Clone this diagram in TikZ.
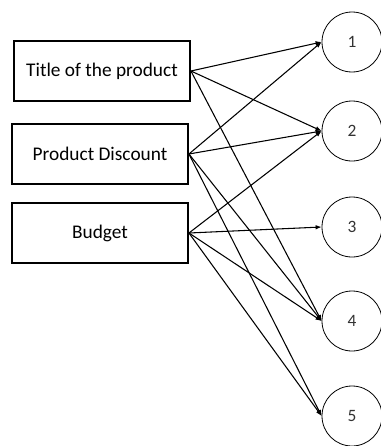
\documentclass[tikz,border=0pt]{standalone}
\usepackage{fontspec}
\setmainfont{Carlito}
\usetikzlibrary{arrows.meta}
\tikzstyle{pixelGrid} = [x = .75pt, y = -.75pt]
\tikzstyle{featureBox} = [draw, line width=1.4pt, minimum width=132pt, minimum height=45pt, inner sep=0pt, font=\fontsize{14.5}{16}\selectfont]
\tikzstyle{classCircle} = [draw, circle, line width=.6pt, minimum size=45pt, inner sep=0pt, font=\fontsize{13}{15}\selectfont, text=black!80]
\tikzstyle{linkArrow} = [line width=.8pt, -{Latex[length=4.5pt, width=3.5pt]}]

\begin{document}
\begin{tikzpicture}[pixelGrid]
  \useasboundingbox (0,0) rectangle (380,446);
  % left column
  \node [featureBox] (title) at (102,71) {Title of the product};
  \node [featureBox] (discount) at (100,154) {Product Discount};
  \node [featureBox] (budget) at (100,233) {Budget};
  % right column
  \foreach \num/\ypos in {1/42, 2/131, 3/227, 4/321, 5/416} {
    \node [classCircle] (class\num) at (352,\ypos) {\num};
  }
  % links
  \foreach \from/\to in {title/1, title/2, title/4, discount/1, discount/2, discount/4, discount/5, budget/2, budget/3, budget/4, budget/5} {
    \draw [linkArrow] (\from.east) -- (class\to.west);
  }
\end{tikzpicture}
\end{document}
